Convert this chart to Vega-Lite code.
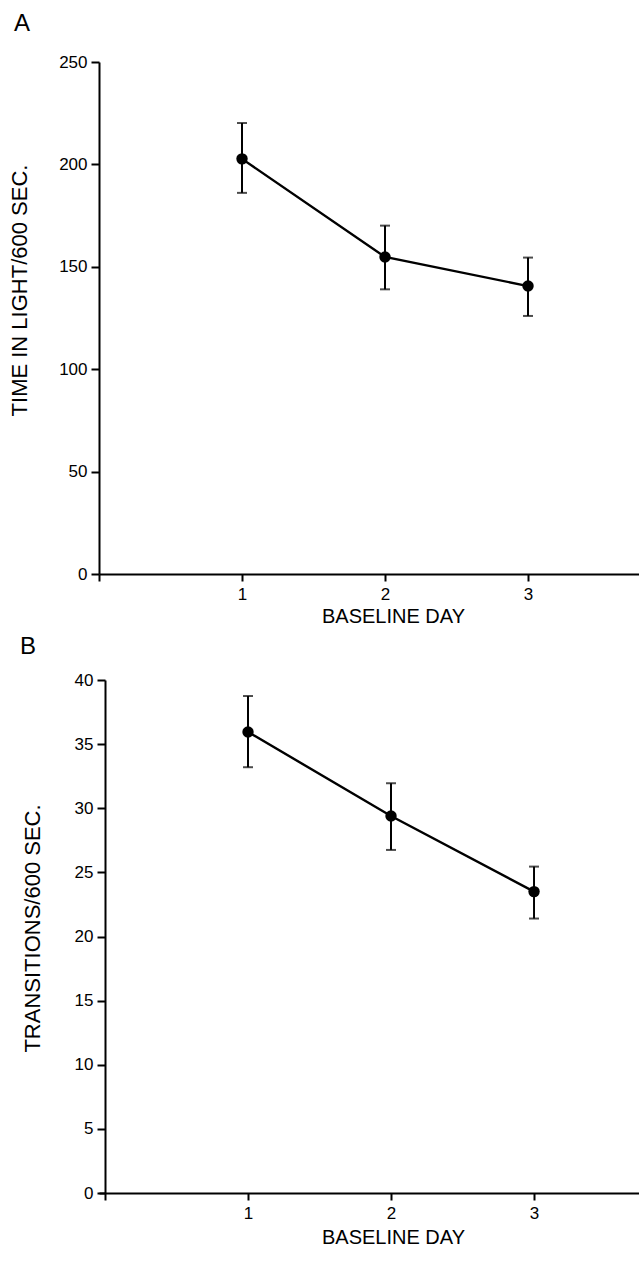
{
  "$schema": "https://vega.github.io/schema/vega-lite/v6.json",
  "padding": {"left": 8, "top": 12, "right": 0, "bottom": 0},
  "background": "white",
  "bounds": "flush",
  "spacing": 106,
  "config": {
    "view": {"stroke": null},
    "font": "Liberation Sans",
    "axis": {
      "grid": false,
      "domainColor": "black",
      "tickColor": "black",
      "labelColor": "black",
      "titleColor": "black",
      "domainWidth": 2,
      "tickWidth": 2,
      "labelFont": "Liberation Sans",
      "titleFont": "Liberation Sans",
      "titleFontWeight": "normal",
      "labelFontSize": 17
    },
    "title": {"font": "Liberation Sans", "fontWeight": "normal", "fontSize": 24, "color": "black", "anchor": "start", "frame": "group"}
  },
  "vconcat": [
    {
      "width": 542,
      "height": 512,
      "title": {"text": "A", "dx": -85, "offset": 17},
      "data": {"values": [
        {"day": 1, "mean": 202.7, "lo": 186.1, "hi": 220.2},
        {"day": 2, "mean": 154.8, "lo": 139.0, "hi": 170.1},
        {"day": 3, "mean": 140.6, "lo": 126.0, "hi": 154.5}
      ]},
      "encoding": {
        "x": {"field": "day", "type": "quantitative",
          "scale": {"domain": [0, 3.79], "nice": false, "zero": false},
          "axis": {"values": [0, 1, 2, 3], "labelExpr": "datum.value == 0 ? '' : datum.label", "tickSize": 7, "labelPadding": 5,
            "title": "BASELINE DAY", "titleFontSize": 20, "titleX": 294, "titleY": 42, "titleBaseline": "middle"}}
      },
      "layer": [
        {"mark": {"type": "rule", "color": "black", "strokeWidth": 2},
         "encoding": {
           "y": {"field": "lo", "type": "quantitative",
             "scale": {"domain": [0, 250], "nice": false},
             "axis": {"values": [0, 50, 100, 150, 200, 250], "tickSize": 8, "labelPadding": 4,
               "title": "TIME IN LIGHT/600 SEC.", "titleFontSize": 22, "titlePadding": 27, "titleY": 228}},
           "y2": {"field": "hi"}}},
        {"mark": {"type": "tick", "orient": "horizontal", "color": "black", "size": 10, "thickness": 2},
         "encoding": {"y": {"field": "lo", "type": "quantitative"}}},
        {"mark": {"type": "tick", "orient": "horizontal", "color": "black", "size": 10, "thickness": 2},
         "encoding": {"y": {"field": "hi", "type": "quantitative"}}},
        {"mark": {"type": "line", "color": "black", "strokeWidth": 2.4},
         "encoding": {"y": {"field": "mean", "type": "quantitative"}}},
        {"mark": {"type": "point", "filled": true, "color": "black", "opacity": 1, "size": 130},
         "encoding": {"y": {"field": "mean", "type": "quantitative"}}}
      ]
    },
    {
      "width": 542,
      "height": 513,
      "title": {"text": "B", "dx": -79, "offset": 12},
      "data": {"values": [
        {"day": 1, "mean": 35.95, "lo": 33.2, "hi": 38.75},
        {"day": 2, "mean": 29.4, "lo": 26.75, "hi": 31.95},
        {"day": 3, "mean": 23.5, "lo": 21.4, "hi": 25.45}
      ]},
      "encoding": {
        "x": {"field": "day", "type": "quantitative",
          "scale": {"domain": [-0.042, 3.748], "nice": false, "zero": false},
          "axis": {"values": [0, 1, 2, 3], "labelExpr": "datum.value == 0 ? '' : datum.label", "tickSize": 7, "labelPadding": 5,
            "title": "BASELINE DAY", "titleFontSize": 20, "titleX": 294, "titleY": 44, "titleBaseline": "middle"}}
      },
      "layer": [
        {"mark": {"type": "rule", "color": "black", "strokeWidth": 2},
         "encoding": {
           "y": {"field": "lo", "type": "quantitative",
             "scale": {"domain": [0, 40], "nice": false},
             "axis": {"values": [0, 5, 10, 15, 20, 25, 30, 35, 40], "tickSize": 8, "labelPadding": 4, "offset": -6,
               "title": "TRANSITIONS/600 SEC.", "titleFontSize": 22, "titlePadding": 30, "titleY": 248}},
           "y2": {"field": "hi"}}},
        {"mark": {"type": "tick", "orient": "horizontal", "color": "black", "size": 10, "thickness": 2},
         "encoding": {"y": {"field": "lo", "type": "quantitative"}}},
        {"mark": {"type": "tick", "orient": "horizontal", "color": "black", "size": 10, "thickness": 2},
         "encoding": {"y": {"field": "hi", "type": "quantitative"}}},
        {"mark": {"type": "line", "color": "black", "strokeWidth": 2.4},
         "encoding": {"y": {"field": "mean", "type": "quantitative"}}},
        {"mark": {"type": "point", "filled": true, "color": "black", "opacity": 1, "size": 130},
         "encoding": {"y": {"field": "mean", "type": "quantitative"}}}
      ]
    }
  ]
}
